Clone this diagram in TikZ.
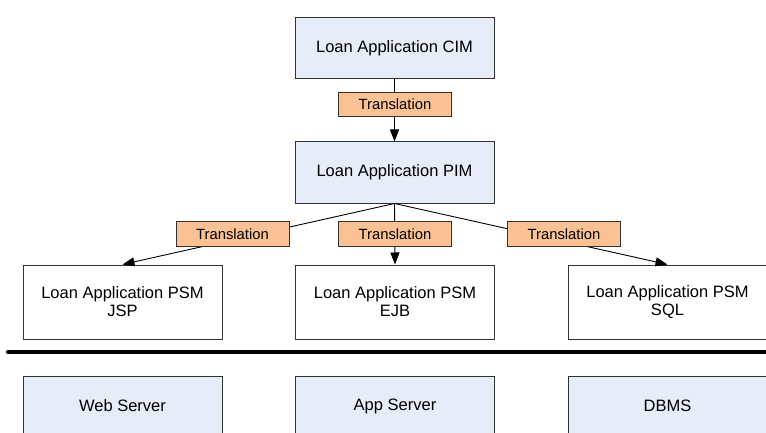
\documentclass[tikz,border=0pt]{standalone}
\usepackage{fontspec}
\setmainfont{Liberation Sans}
\usetikzlibrary{arrows.meta}

\definecolor{modelfill}{RGB}{230,236,248}
\definecolor{transfill}{RGB}{250,194,148}
\definecolor{edgegray}{RGB}{50,50,50}

\tikzset{
  model/.style={draw=edgegray, line width=1pt, fill=modelfill, inner sep=0pt,
    minimum width=199pt, minimum height=61pt, align=center,
    font=\fontsize{16.5}{18}\selectfont},
  psm/.style={model, fill=white, minimum height=74pt},
  server/.style={model, minimum height=60pt},
  trans/.style={draw=edgegray, line width=0.9pt, fill=transfill, inner sep=0pt,
    minimum width=113pt, minimum height=24.5pt,
    font=\fontsize{14.8}{16}\selectfont},
  flow/.style={draw=black, line width=0.9pt,
    -{Triangle[length=12pt,width=9pt]}},
}

\begin{document}
\begin{tikzpicture}[x=1pt,y=-1pt]
  \useasboundingbox (0,0) rectangle (766,433);
  \clip (0,0) rectangle (766,433);
  \fill[white] (0,0) rectangle (766,433);

  % model levels
  \node[model] (cim) at (394.5,48.5) {Loan Application CIM};
  \node[model] (pim) at (394.5,172.5) {Loan Application PIM};
  \node[psm] (jsp) at (122.5,302) {Loan Application PSM\\JSP};
  \node[psm] (ejb) at (395,302) {Loan Application PSM\\EJB};
  \node[psm] (sql) at (667.5,302) {Loan Application PSM\\SQL};

  % transformations between levels
  \draw[flow] (cim.south) -- (pim.north);
  \draw[flow] (pim.south) -- (jsp.north);
  \draw[flow] (pim.south) -- (ejb.north);
  \draw[flow] (pim.south) -- (sql.north);

  \node[trans] (t0) at (395,104.5) {Translation};
  \node[trans] (t1) at (232.5,234) {Translation};
  \node[trans] (t2) at (395,234) {Translation};
  \node[trans] (t3) at (564,234) {Translation};

  % separator between models and platforms
  \coordinate (sepL) at (8,352);
  \coordinate (sepR) at (775,352);
  \draw[line width=4pt, line cap=round] (sepL) -- (sepR);

  % platforms
  \node[server] (web) at (122.5,406) {Web Server};
  \node[server] (app) at (395,406) {App Server};
  \node[server] (dbms) at (667.5,406) {DBMS};
\end{tikzpicture}
\end{document}
